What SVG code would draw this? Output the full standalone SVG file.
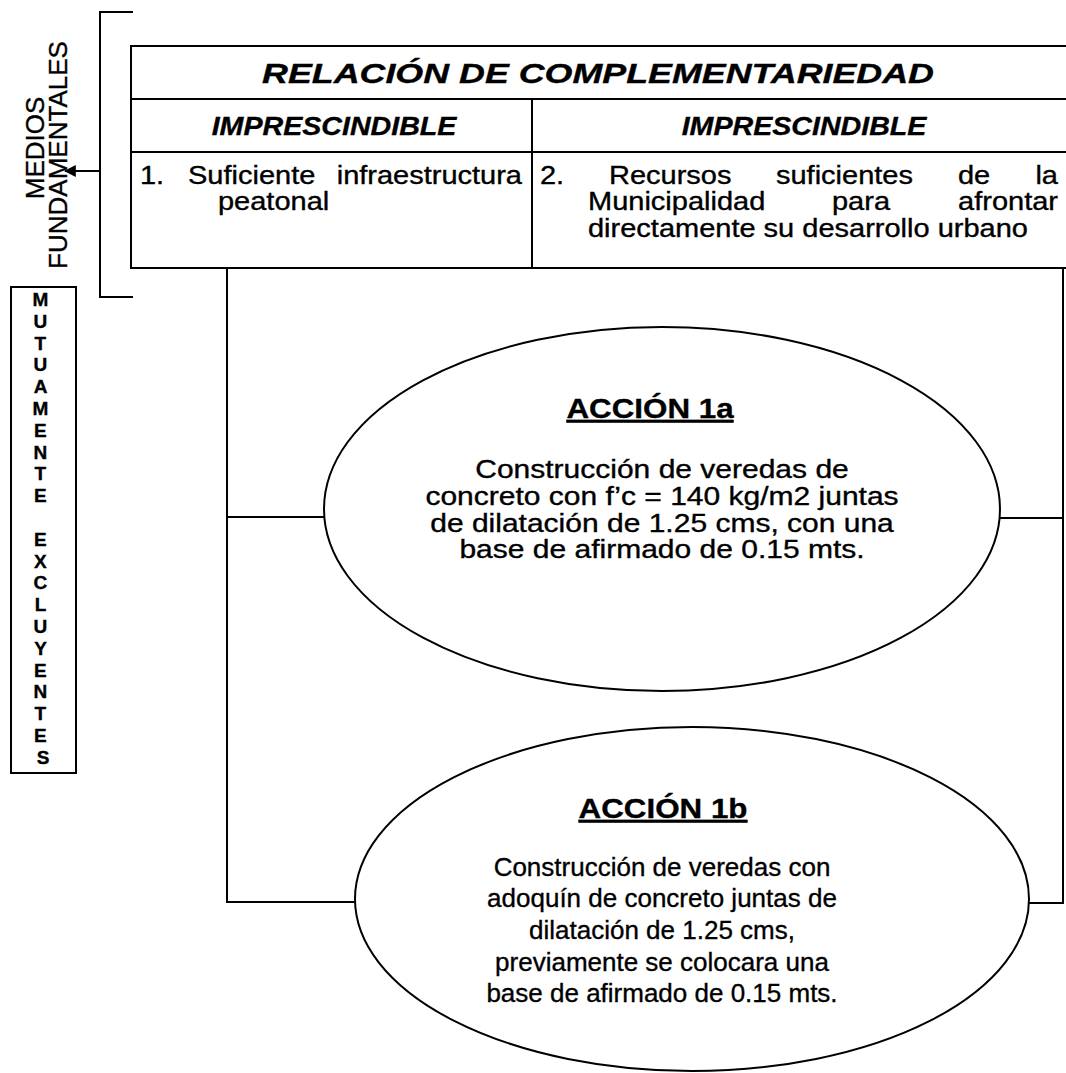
<svg xmlns="http://www.w3.org/2000/svg" width="1066" height="1073" viewBox="0 0 1066 1073">
  <style>
    .ln { stroke: #000; stroke-width: 2; fill: none; }
    .shape { stroke: #000; stroke-width: 2; fill: #fff; }
    text { font-family: "Liberation Sans", Arial, sans-serif; fill: #000; stroke: #000; stroke-width: 0.35; }
    .ttl-tab { font-size: 28px; font-weight: bold; font-style: italic; }
    .hdr { font-size: 26px; font-weight: bold; font-style: italic; }
    .body { font-size: 25px; }
    .ttl { font-size: 28px; font-weight: bold; text-decoration: underline; }
    .ebody { font-size: 25px; }
    .ebody2 { font-size: 26px; }
    .side { font-size: 26px; }
    .vert { font-size: 19px; font-weight: bold; }
  </style>
  <defs>
    <marker id="arrow" viewBox="0 0 10 10" refX="9" refY="5" markerWidth="6" markerHeight="6" orient="auto">
      <path d="M0,0 L10,5 L0,10 z" fill="#000"/>
    </marker>
  </defs>
  <rect width="1066" height="1073" fill="#fff"/>

  <!-- bracket grouping the fundamental means -->
  <g id="medios-fundamentales">
    <path class="ln" d="M133,12 H100 V297 H133"/>
    <line class="ln" x1="100" y1="171" x2="65" y2="171" marker-end="url(#arrow)"/>
    <text class="side" transform="translate(44,148) rotate(-90)" text-anchor="middle">MEDIOS</text>
    <text class="side" transform="translate(67,155) rotate(-90)" text-anchor="middle">FUNDAMENTALES</text>
  </g>

  <!-- vertical label box -->
  <g id="mutuamente-excluyentes">
    <rect class="shape" x="11" y="287" width="65" height="486"/>
    <text class="vert" text-anchor="middle">
      <tspan x="43" y="306">M</tspan>
      <tspan x="43" dy="21.8">U</tspan>
      <tspan x="43" dy="21.8">T</tspan>
      <tspan x="43" dy="21.8">U</tspan>
      <tspan x="43" dy="21.8">A</tspan>
      <tspan x="43" dy="21.8">M</tspan>
      <tspan x="43" dy="21.8">E</tspan>
      <tspan x="43" dy="21.8">N</tspan>
      <tspan x="43" dy="21.8">T</tspan>
      <tspan x="43" dy="21.8">E</tspan>
      <tspan x="43" dy="43.6">E</tspan>
      <tspan x="43" dy="21.8">X</tspan>
      <tspan x="43" dy="21.8">C</tspan>
      <tspan x="43" dy="21.8">L</tspan>
      <tspan x="43" dy="21.8">U</tspan>
      <tspan x="43" dy="21.8">Y</tspan>
      <tspan x="43" dy="21.8">E</tspan>
      <tspan x="43" dy="21.8">N</tspan>
      <tspan x="43" dy="21.8">T</tspan>
      <tspan x="43" dy="21.8">E</tspan>
      <tspan x="43" dy="21.8">S</tspan>
    </text>
  </g>

  <!-- complementarity table -->
  <g id="tabla-complementariedad">
    <path class="ln" d="M1066,46 H131 V268 H1066 M131,99 H1066 M131,152 H1066 M532,99 V268"/>
    <text class="ttl-tab" transform="translate(598,83) scale(1.28,1)" text-anchor="middle">RELACIÓN DE COMPLEMENTARIEDAD</text>
    <text class="hdr" transform="translate(334,135) scale(1.1,1)" text-anchor="middle">IMPRESCINDIBLE</text>
    <text class="hdr" transform="translate(804,135) scale(1.1,1)" text-anchor="middle">IMPRESCINDIBLE</text>
    <!-- left cell, justified first line -->
    <text class="body" transform="translate(140,184) scale(1.16,1)">1.</text>
    <text class="body" transform="translate(188,184) scale(1.16,1)">Suficiente</text>
    <text class="body" transform="translate(522,184) scale(1.16,1)" text-anchor="end">infraestructura</text>
    <text class="body" transform="translate(218,210) scale(1.16,1)">peatonal</text>
    <!-- right cell, justified lines -->
    <text class="body" transform="translate(540,184) scale(1.16,1)">2.</text>
    <text class="body" transform="translate(609,184) scale(1.16,1)">Recursos</text>
    <text class="body" transform="translate(776,184) scale(1.16,1)">suficientes</text>
    <text class="body" transform="translate(958,184) scale(1.16,1)">de</text>
    <text class="body" transform="translate(1058,184) scale(1.16,1)" text-anchor="end">la</text>
    <text class="body" transform="translate(588,210) scale(1.16,1)">Municipalidad</text>
    <text class="body" transform="translate(832,210) scale(1.16,1)">para</text>
    <text class="body" transform="translate(1058,210) scale(1.16,1)" text-anchor="end">afrontar</text>
    <text class="body" transform="translate(588,237) scale(1.16,1)">directamente su desarrollo urbano</text>
  </g>

  <!-- connectors from the table to the actions -->
  <g id="conectores">
    <path class="ln" d="M227,268 V902 H356 M227,517 H324"/>
    <path class="ln" d="M1063,268 V903 H1029 M1063,518 H1000"/>
  </g>

  <g id="accion-1a">
    <ellipse class="shape" cx="662" cy="509" rx="338" ry="182"/>
    <text class="ttl" transform="translate(650,418) scale(1.12,1)" text-anchor="middle">ACCIÓN 1a</text>
    <text class="ebody" transform="translate(662,478) scale(1.2,1)" text-anchor="middle">Construcción de veredas de</text>
    <text class="ebody" transform="translate(662,505) scale(1.2,1)" text-anchor="middle">concreto con f’c = 140 kg/m2 juntas</text>
    <text class="ebody" transform="translate(662,532) scale(1.2,1)" text-anchor="middle">de dilatación de 1.25 cms, con una</text>
    <text class="ebody" transform="translate(662,558) scale(1.2,1)" text-anchor="middle">base de afirmado de 0.15 mts.</text>
  </g>

  <g id="accion-1b">
    <ellipse class="shape" cx="692" cy="899" rx="337" ry="172"/>
    <text class="ttl" transform="translate(663,818) scale(1.12,1)" text-anchor="middle">ACCIÓN 1b</text>
    <text class="ebody2" x="662" y="876" text-anchor="middle">Construcción de veredas con</text>
    <text class="ebody2" x="662" y="907" text-anchor="middle">adoquín de concreto juntas de</text>
    <text class="ebody2" x="662" y="939" text-anchor="middle">dilatación de 1.25 cms,</text>
    <text class="ebody2" x="662" y="971" text-anchor="middle">previamente se colocara una</text>
    <text class="ebody2" x="662" y="1002" text-anchor="middle">base de afirmado de 0.15 mts.</text>
  </g>
</svg>
